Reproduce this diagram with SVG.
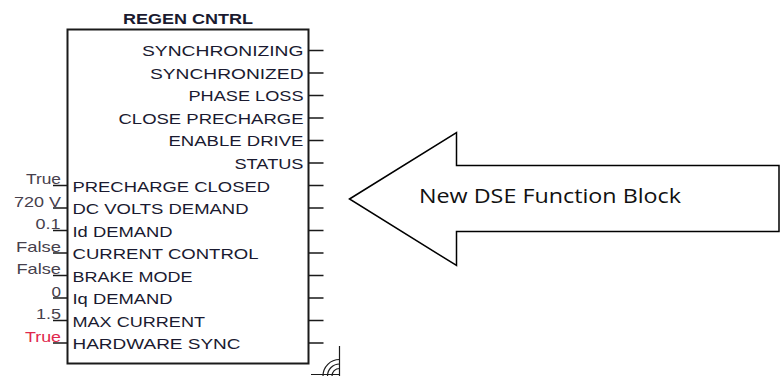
<svg xmlns="http://www.w3.org/2000/svg" width="784" height="376" viewBox="0 0 784 376">
  <style>
    .box { fill: #ffffff; stroke: #1a1a1a; stroke-width: 2; }
    .pin { stroke: #1a1a1a; stroke-width: 1.5; fill: none; }
    .lbl { font-family: "Liberation Sans", Arial, sans-serif; font-size: 15px; fill: #1a1a30; }
    .out { text-anchor: end; }
    .val { font-family: "Liberation Sans", Arial, sans-serif; font-size: 15px; fill: #46404c; text-anchor: end; }
    .warn { fill: #e0284c; }
    .title { font-family: "Liberation Sans", Arial, sans-serif; font-size: 15px; font-weight: bold; fill: #1a1a30; text-anchor: middle; }
    .callout { fill: #ffffff; stroke: #000000; stroke-width: 1.5; stroke-linejoin: miter; }
    .callout-text { font-family: "Open Sans", "Noto Sans", sans-serif; font-size: 20px; fill: #111111; }
    .grip { stroke: #1a1a1a; stroke-width: 1.2; fill: none; }
  </style>

  <rect width="784" height="376" fill="#ffffff"/>

  <!-- Function block REGEN CNTRL -->
  <g id="regen-cntrl">
    <text class="title" x="188" y="24" textLength="130" lengthAdjust="spacingAndGlyphs">REGEN CNTRL</text>
    <rect class="box" x="67.5" y="29.5" width="241" height="334"/>

    <!-- output labels -->
    <text class="lbl out" x="303.5" y="56" textLength="161.5" lengthAdjust="spacingAndGlyphs">SYNCHRONIZING</text>
    <text class="lbl out" x="303.5" y="78.5" textLength="153.5" lengthAdjust="spacingAndGlyphs">SYNCHRONIZED</text>
    <text class="lbl out" x="303.5" y="101" textLength="115" lengthAdjust="spacingAndGlyphs">PHASE LOSS</text>
    <text class="lbl out" x="303.5" y="123.5" textLength="185" lengthAdjust="spacingAndGlyphs">CLOSE PRECHARGE</text>
    <text class="lbl out" x="303.5" y="146" textLength="135" lengthAdjust="spacingAndGlyphs">ENABLE DRIVE</text>
    <text class="lbl out" x="303.5" y="168.5" textLength="69" lengthAdjust="spacingAndGlyphs">STATUS</text>

    <!-- input labels -->
    <text class="lbl" x="72.5" y="191.5" textLength="197.5" lengthAdjust="spacingAndGlyphs">PRECHARGE CLOSED</text>
    <text class="lbl" x="72.5" y="214" textLength="176" lengthAdjust="spacingAndGlyphs">DC VOLTS DEMAND</text>
    <text class="lbl" x="72.5" y="236.5" textLength="100" lengthAdjust="spacingAndGlyphs">Id DEMAND</text>
    <text class="lbl" x="72.5" y="259" textLength="186" lengthAdjust="spacingAndGlyphs">CURRENT CONTROL</text>
    <text class="lbl" x="72.5" y="281.5" textLength="120" lengthAdjust="spacingAndGlyphs">BRAKE MODE</text>
    <text class="lbl" x="72.5" y="304" textLength="100" lengthAdjust="spacingAndGlyphs">Iq DEMAND</text>
    <text class="lbl" x="72.5" y="326.5" textLength="132.5" lengthAdjust="spacingAndGlyphs">MAX CURRENT</text>
    <text class="lbl" x="72.5" y="349" textLength="168" lengthAdjust="spacingAndGlyphs">HARDWARE SYNC</text>

    <!-- input values -->
    <text class="val" x="61" y="184" textLength="35" lengthAdjust="spacingAndGlyphs">True</text>
    <text class="val" x="61" y="206.5" textLength="47" lengthAdjust="spacingAndGlyphs">720 V</text>
    <text class="val" x="60.5" y="229" textLength="25" lengthAdjust="spacingAndGlyphs">0.1</text>
    <text class="val" x="61" y="251.5" textLength="45" lengthAdjust="spacingAndGlyphs">False</text>
    <text class="val" x="61" y="274" textLength="44.5" lengthAdjust="spacingAndGlyphs">False</text>
    <text class="val" x="61" y="296.5" textLength="9.5" lengthAdjust="spacingAndGlyphs">0</text>
    <text class="val" x="61" y="319" textLength="25" lengthAdjust="spacingAndGlyphs">1.5</text>
    <text class="val warn" x="61" y="341.5" textLength="36" lengthAdjust="spacingAndGlyphs">True</text>
  </g>

  <!-- pin stubs of the block -->
  <g id="pins">
    <path class="pin" d="M308.5 50.5H323.5 M308.5 73H323.5 M308.5 95.5H323.5 M308.5 118H323.5 M308.5 140.5H323.5 M308.5 163H323.5 M308.5 185.5H323.5 M308.5 208H323.5 M308.5 230.5H323.5 M308.5 253H323.5 M308.5 275.5H323.5 M308.5 298H323.5 M308.5 320.5H323.5 M308.5 343H323.5"/>
    <path class="pin" d="M53 185.5H67.5 M53 208H67.5 M53 230.5H67.5 M53 253H67.5 M53 275.5H67.5 M53 298H67.5 M53 320.5H67.5 M53 343H67.5"/>
  </g>

  <!-- resize grip at the lower right corner -->
  <g id="grip">
    <path class="grip" d="M339.5 346V376 M311 374.5H339.5"/>
    <path class="grip" d="M323 376A16.5 16.5 0 0 1 339.5 359.5 M327.5 376A12 12 0 0 1 339.5 364 M332 376A7.5 7.5 0 0 1 339.5 368.5"/>
  </g>

  <!-- callout arrow -->
  <g id="callout">
    <polygon class="callout" points="349.5,199 456.5,132.5 456.5,165.5 779,165.5 779,231.5 456.5,231.5 456.5,265.5"/>
    <text class="callout-text" x="419" y="202.5" textLength="262" lengthAdjust="spacingAndGlyphs">New DSE Function Block</text>
  </g>
</svg>
